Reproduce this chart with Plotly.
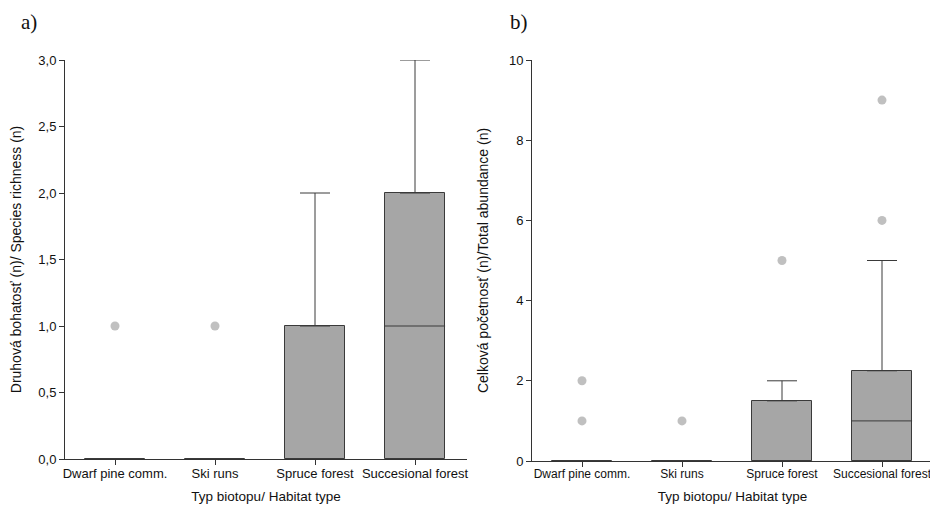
import plotly.graph_objects as go

categories = ["Dwarf pine comm.", "Ski runs", "Spruce forest", "Succesional forest"]

# Panel a) species richness
a_q1 = [0, 0, 0, 0]
a_q3 = [0, 0, 1, 2]
a_median = [0, 0, 0, 1]
a_upper = [0, 0, 2, 3]
a_out_x = ["Dwarf pine comm.", "Ski runs"]
a_out_y = [1, 1]

# Panel b) total abundance
b_q1 = [0, 0, 0, 0]
b_q3 = [0, 0, 1.5, 2.25]
b_median = [0, 0, 0, 1]
b_upper = [0, 0, 2, 5]
b_out_x = ["Dwarf pine comm.", "Dwarf pine comm.", "Ski runs", "Spruce forest",
           "Succesional forest", "Succesional forest"]
b_out_y = [1, 2, 1, 5, 6, 9]

BOX_FILL = "#a6a6a6"
EDGE = "#3a3a3a"
OUT = "#c0c0c0"
FONT = "Liberation Sans, Arial, sans-serif"

# page body has an 8px margin, so the figure is drawn 8px in from the window edge
W, H = 930, 499
OFF = 8

fig = go.Figure()


def add_panel(q1, q3, med, upper, ox, oy, xa, ya):
    fig.add_trace(go.Bar(
        x=categories, y=[h - l for h, l in zip(q3, q1)], base=q1,
        width=0.6, marker=dict(color=BOX_FILL, line=dict(color=EDGE, width=1)),
        error_y=dict(type="data", symmetric=False,
                     array=[u - h for u, h in zip(upper, q3)],
                     arrayminus=[0] * len(q3),
                     color=EDGE, thickness=1, width=15),
        xaxis=xa, yaxis=ya, showlegend=False, hoverinfo="skip"))
    fig.add_trace(go.Scatter(
        x=[c for c, h, l in zip(categories, q3, q1) if h > l],
        y=[m for m, h, l in zip(med, q3, q1) if h > l],
        mode="markers",
        marker=dict(symbol="line-ew", size=43, line=dict(color=EDGE, width=1)),
        xaxis=xa, yaxis=ya, showlegend=False, cliponaxis=False))
    fig.add_trace(go.Scatter(
        x=ox, y=oy, mode="markers",
        marker=dict(color=OUT, size=9),
        xaxis=xa, yaxis=ya, showlegend=False))


add_panel(a_q1, a_q3, a_median, a_upper, a_out_x, a_out_y, "x", "y")
add_panel(b_q1, b_q3, b_median, b_upper, b_out_x, b_out_y, "x2", "y2")


def px_x(a, b):
    return [(a - OFF) / W, (b - OFF) / W]


def px_y(top, bottom):
    return [1 - (bottom - OFF) / H, 1 - (top - OFF) / H]


xcommon = dict(type="category", showline=True, linecolor="#333", linewidth=1,
               ticks="outside", ticklen=5, tickcolor="#333", showgrid=False,
               zeroline=False, automargin=False, ticklabelstandoff=-3,
               ticklabeloverflow="allow",
               title=dict(text="Typ biotopu/ Habitat type",
                          font=dict(family=FONT, size=13.5, color="#111"), standoff=11),
               categoryorder="array", categoryarray=categories)
ycommon = dict(showline=True, linecolor="#333", linewidth=1, ticks="outside",
               ticklen=5, tickcolor="#333", showgrid=False, zeroline=False,
               automargin=False,
               tickfont=dict(family=FONT, size=13, color="#111"))

fig.update_layout(
    width=W, height=H,
    margin=dict(l=0, r=0, t=0, b=0),
    paper_bgcolor="white", plot_bgcolor="white",
    separators=", ",
    bargap=0,
    xaxis=dict(xcommon, domain=px_x(65, 467), range=[-0.5, 3.52], anchor="y",
               tickfont=dict(family=FONT, size=13, color="#111")),
    yaxis=dict(ycommon, domain=px_y(60, 459), range=[0, 3],
               tickvals=[0, 0.5, 1, 1.5, 2, 2.5, 3], tickformat=".1f", anchor="x",
               title=dict(text="Druhová bohatosť (n)/ Species richness (n)",
                          font=dict(family=FONT, size=14, color="#111"), standoff=13)),
    xaxis2=dict(xcommon, domain=px_x(532, 933), range=[-0.5, 3.51], anchor="y2",
                tickfont=dict(family=FONT, size=12, color="#111")),
    yaxis2=dict(ycommon, domain=px_y(60, 461), range=[0, 10],
                tickvals=[0, 2, 4, 6, 8, 10], anchor="x2",
                title=dict(text="Celková početnosť (n)/Total abundance (n)",
                           font=dict(family=FONT, size=14, color="#111"), standoff=17)),
    annotations=[
        dict(text="a)", x=(19 - OFF) / W, y=1 - (22 - OFF) / H, xref="paper", yref="paper",
             showarrow=False, xanchor="left", yanchor="middle",
             font=dict(family="Liberation Serif, Times New Roman, serif", size=21, color="#111")),
        dict(text="b)", x=(508 - OFF) / W, y=1 - (22 - OFF) / H, xref="paper", yref="paper",
             showarrow=False, xanchor="left", yanchor="middle",
             font=dict(family="Liberation Serif, Times New Roman, serif", size=21, color="#111")),
    ],
)

fig.write_html("out.html")
